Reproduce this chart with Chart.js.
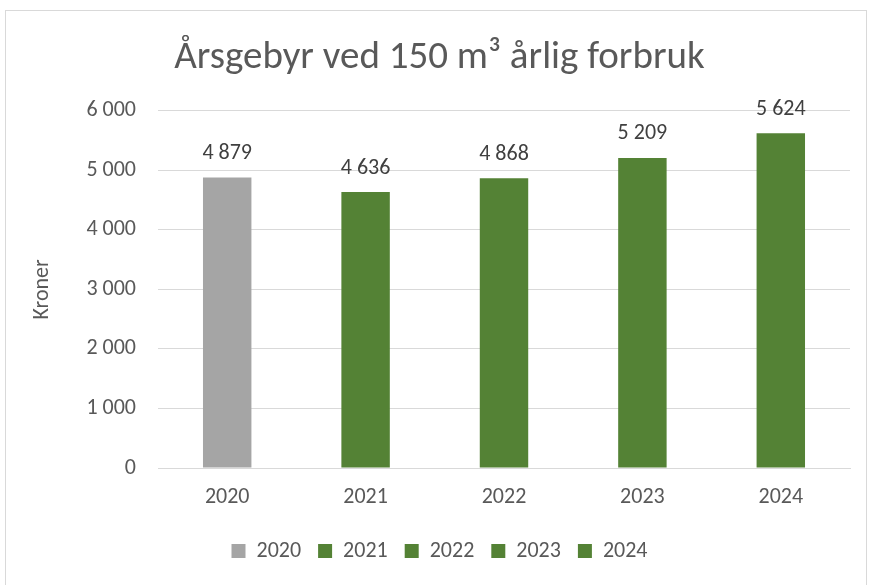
<!DOCTYPE html>
<html>
<head>
<meta charset="utf-8">
<script src="https://cdn.jsdelivr.net/npm/chart.js@4"></script>
<style>
  html, body { margin: 0; padding: 0; background: #fff; }
  #wrap { position: absolute; left: 0; top: 0; width: 870px; height: 585px; }
</style>
</head>
<body>
<div id="wrap"><canvas id="chartFee"></canvas></div>
<script>
const years = ['2020', '2021', '2022', '2023', '2024'];
const fees = [4879, 4636, 4868, 5209, 5624];
const barColors = ['#A5A5A5', '#548235', '#548235', '#548235', '#548235'];
const yTicks = [0, 1000, 2000, 3000, 4000, 5000, 6000];

const FONT = "Carlito, 'Open Sans', sans-serif";

function fmt(v) {
    return String(v).replace(/\B(?=(\d{3})+(?!\d))/g, ' ');
}

// border round the chart, like the Excel chart frame
const frame = {
    id: 'frame',
    beforeDraw(chart) {
        const ctx = chart.ctx;
        ctx.save();
        ctx.fillStyle = '#fff';
        ctx.fillRect(0, 0, chart.width, chart.height);
        ctx.strokeStyle = '#D9D9D9';
        ctx.lineWidth = 1;
        ctx.strokeRect(5.5, 10.5, 861, 580);
        ctx.restore();
    }
};

// value labels above the bars
const valueLabels = {
    id: 'valueLabels',
    afterDatasetsDraw(chart) {
        const ctx = chart.ctx;
        const meta = chart.getDatasetMeta(0);
        ctx.save();
        ctx.font = '22px ' + FONT;
        ctx.fillStyle = '#404040';
        ctx.textAlign = 'center';
        ctx.textBaseline = 'middle';
        meta.data.forEach((bar, i) => {
            ctx.fillText(fmt(fees[i]), bar.x, bar.y - 24);
        });
        ctx.restore();
    }
};

const canvas = document.getElementById('chartFee');

new Chart(canvas, {
    type: 'bar',
    data: {
        labels: years,
        datasets: [{
            label: 'Årsgebyr',
            data: fees,
            backgroundColor: barColors,
            categoryPercentage: 1,
            barPercentage: 0.35
        }]
    },
    options: {
        responsive: true,
        maintainAspectRatio: false,
        animation: false,
        layout: {
            padding: { top: 10, left: 29, right: 20, bottom: 13 }
        },
        plugins: {
            title: {
                display: true,
                text: 'Årsgebyr ved 150 m³ årlig forbruk',
                color: '#595959',
                font: { family: FONT, size: 39, weight: 'normal' },
                padding: { top: 25, bottom: 29 }
            },
            legend: {
                position: 'bottom',
                labels: {
                    color: '#595959',
                    font: { family: FONT, size: 22 },
                    boxWidth: 14,
                    boxHeight: 14,
                    padding: 17,
                    generateLabels(chart) {
                        return years.map((y, i) => ({
                            text: y,
                            fillStyle: barColors[i],
                            strokeStyle: barColors[i],
                            fontColor: '#595959',
                            lineWidth: 0,
                            hidden: false,
                            index: i
                        }));
                    }
                },
                onClick() {}
            },
            tooltip: { enabled: false }
        },
        scales: {
            x: {
                afterFit(scale) {
                    scale.height = 55;
                },
                grid: { display: false, drawTicks: false },
                border: { color: '#D9D9D9', width: 1 },
                ticks: {
                    color: '#595959',
                    font: { family: FONT, size: 22 },
                    padding: 16
                }
            },
            y: {
                min: 0,
                max: 6000,
                afterBuildTicks(scale) {
                    scale.ticks = yTicks.map(v => ({ value: v }));
                },
                afterFit(scale) {
                    scale.width = 129;
                },
                grid: { color: '#D9D9D9', drawTicks: false },
                border: { display: false },
                ticks: {
                    color: '#595959',
                    font: { family: FONT, size: 22 },
                    padding: 22,
                    callback: v => fmt(v)
                },
                title: {
                    display: true,
                    text: 'Kroner',
                    color: '#595959',
                    font: { family: FONT, size: 22 },
                    padding: 0
                }
            }
        }
    },
    plugins: [frame, valueLabels]
});
</script>
</body>
</html>
